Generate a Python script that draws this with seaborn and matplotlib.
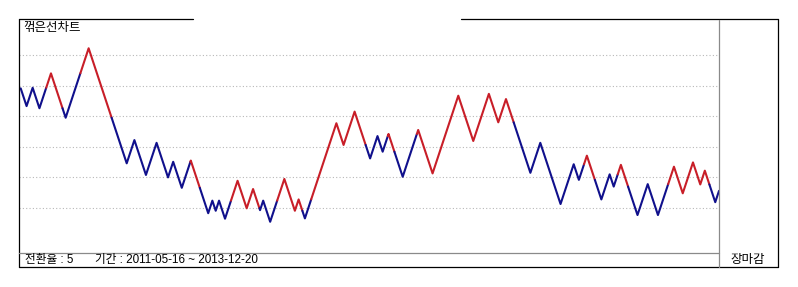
import numpy as np
import pandas as pd
import matplotlib
matplotlib.use("Agg")
import matplotlib.pyplot as plt
from matplotlib.lines import Line2D
import seaborn as sns

# ---- data ----
chart_title = "꺾은선차트"
ratio_label = "전환율 : 5"
period_label = "기간 : 2011-05-16 ~ 2013-12-20"
close_label = "장마감"
grid_levels = [10000, 11000, 12000, 13000, 14000, 15000]
kagi_values = [13910, 13330, 13930, 13260, 14400, 12950, 15220, 11460, 12220, 11080,
               12130, 11000, 11510, 10660, 11550, 9830, 10240, 9910, 10240, 9650,
               10890, 9990, 10620, 9930, 10240, 9550, 10950, 9910, 10280, 9660,
               12770, 12060, 13150, 11620, 12350, 11840, 12420, 11020, 12550, 11130,
               13670, 12190, 13730, 12800, 13560, 11150, 12130, 10130, 11430, 10920,
               11710, 10280, 11100, 10700, 11410, 9770, 10780, 9770, 11350, 10480,
               11490, 10770, 11220, 10190, 10560]

RED = "#C81E28"
BLUE = "#10108C"

# x position = cumulative absolute change (constant slope kagi layout)
vals = np.array(kagi_values, dtype=float)
xs = np.concatenate([[0.0], np.cumsum(np.abs(np.diff(vals)))])

# kagi colouring: red after breaking last shoulder, blue after breaking last waist
runs = []
state = "blue"
cur = [(xs[0], vals[0])]
for i in range(1, len(vals)):
    v0, v1 = vals[i - 1], vals[i]
    x0, x1 = xs[i - 1], xs[i]
    prev_turn = vals[i - 2] if i - 2 >= 1 else None
    switch = False
    if prev_turn is not None:
        if v1 > v0 and state == "blue" and v1 > prev_turn:
            switch = True
        elif v1 < v0 and state == "red" and v1 < prev_turn:
            switch = True
    if switch:
        xc = x0 + (prev_turn - v0) / (v1 - v0) * (x1 - x0)
        cur.append((xc, prev_turn))
        runs.append((state, cur))
        state = "red" if state == "blue" else "blue"
        cur = [(xc, prev_turn)]
    cur.append((x1, v1))
runs.append((state, cur))

rows = []
palette = {}
for k, (col, pts) in enumerate(runs):
    palette[k] = RED if col == "red" else BLUE
    for (x, y) in pts:
        rows.append({"x": x, "price": y, "run": k})
df = pd.DataFrame(rows)

# ---- figure ----
sns.set_theme(style="white")
plt.rcParams["font.family"] = ["Liberation Sans", "Noto Sans CJK KR", "DejaVu Sans"]

W, H = 798, 287
fig = plt.figure(figsize=(W / 100, H / 100), dpi=100)
fig.patch.set_facecolor("white")

def fx(px):
    return px / W

def fy(py):
    return 1 - py / H

ax = fig.add_axes([fx(19), fy(252), (719 - 19) / W, (252 - 20) / H])
ax.set_facecolor("none")

sns.lineplot(data=df, x="x", y="price", hue="run", palette=palette,
             estimator=None, sort=False, legend=False, linewidth=1.5, ax=ax)

total = xs[-1]
pad = total * 1.7 / 698.3
ax.set_xlim(-pad, total)
per_px = 1000 / 30.6
ax.set_ylim(10000 - (252 - 208) * per_px, 10000 + (208 - 20) * per_px)
ax.set_yticks(grid_levels)
ax.set_xticks([])
ax.tick_params(left=False, bottom=False, labelleft=False, labelbottom=False)
ax.yaxis.grid(True, color="#b8b8b8", linestyle=(0, (1, 2)), linewidth=0.8)
ax.xaxis.grid(False)
ax.set_axisbelow(True)
for s in ax.spines.values():
    s.set_visible(False)
ax.set_xlabel("")
ax.set_ylabel("")

# frame lines (figure pixel coords)
def fline(x0, y0, x1, y1, color="black", lw=0.9):
    fig.add_artist(Line2D([fx(x0), fx(x1)], [fy(y0), fy(y1)], color=color,
                          linewidth=lw, transform=fig.transFigure))

fline(18.5, 18.5, 18.5, 266.5)
fline(18.5, 18.5, 193, 18.5)
fline(461, 18.5, 777.5, 18.5)
fline(777.5, 18.5, 777.5, 266.5)
fline(18.5, 266.5, 777.5, 266.5)
fline(18.5, 252.5, 718.5, 252.5, color="#8a8a8a")
fline(718.5, 20, 718.5, 266.5, color="#8a8a8a")

fig.text(fx(23), fy(27.5), chart_title, fontsize=9, va="center", ha="left", color="black")
fig.text(fx(25), fy(259.5), ratio_label, fontsize=8.4, va="center", ha="left", color="black")
fig.text(fx(95), fy(259.5), period_label, fontsize=8.4, va="center", ha="left", color="black")
fig.text(fx(730), fy(259.5), close_label, fontsize=9, va="center", ha="left", color="black")

fig.savefig("out.png", dpi=100, facecolor="white")
